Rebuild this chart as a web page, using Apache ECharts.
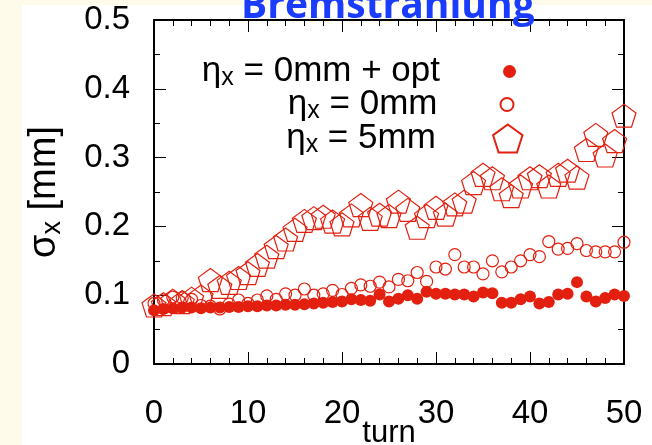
<!DOCTYPE html>
<html>
<head>
<meta charset="utf-8">
<script src="https://cdn.jsdelivr.net/npm/echarts@6/dist/echarts.min.js"></script>
<style>
  html, body { margin: 0; padding: 0; }
  #chart {
    width: 652px;
    height: 445px;
    background:
      linear-gradient(#fffbea, #fffbea) 0 0 / 22px 100% no-repeat,
      linear-gradient(#fffbea, #fffbea) 0 0 / 100% 5px no-repeat,
      #fff;
  }
</style>
</head>
<body>
<div id="chart"></div>
<script>
const turns = [0, 1, 2, 3, 4, 5, 6, 7, 8, 9, 10, 11, 12, 13, 14, 15, 16, 17, 18, 19, 20,
  21, 22, 23, 24, 25, 26, 27, 28, 29, 30, 31, 32, 33, 34, 35, 36, 37, 38, 39, 40,
  41, 42, 43, 44, 45, 46, 47, 48, 49, 50];

// sigma_x [mm], eta_x = 0mm + opt
const sigmaOpt = [0.078, 0.080, 0.081, 0.082, 0.082, 0.081, 0.082, 0.082, 0.083, 0.083,
  0.084, 0.084, 0.085, 0.085, 0.086, 0.086, 0.087, 0.088, 0.089, 0.090,
  0.091, 0.094, 0.093, 0.092, 0.101, 0.091, 0.095, 0.100, 0.095, 0.105,
  0.102, 0.102, 0.101, 0.101, 0.098, 0.104, 0.103, 0.089, 0.089, 0.094,
  0.098, 0.088, 0.090, 0.101, 0.102, 0.119, 0.098, 0.091, 0.096, 0.101, 0.099];

// eta_x = 0mm
const sigmaZero = [0.088, 0.093, 0.097, 0.096, 0.094, 0.085, 0.084, 0.080, 0.087, 0.093,
  0.088, 0.093, 0.099, 0.094, 0.102, 0.100, 0.109, 0.100, 0.102, 0.107,
  0.101, 0.110, 0.115, 0.113, 0.119, 0.112, 0.123, 0.121, 0.133, 0.120,
  0.141, 0.138, 0.159, 0.141, 0.141, 0.131, 0.150, 0.134, 0.141, 0.150,
  0.159, 0.156, 0.178, 0.167, 0.168, 0.175, 0.165, 0.163, 0.163, 0.163, 0.177];

// eta_x = 5mm
const sigmaFive = [0.085, 0.087, 0.092, 0.090, 0.095, 0.098, 0.122, 0.112, 0.118, 0.125,
  0.132, 0.144, 0.156, 0.170, 0.181, 0.195, 0.208, 0.212, 0.214, 0.207,
  0.203, 0.216, 0.231, 0.211, 0.217, 0.215, 0.236, 0.224, 0.198, 0.215,
  0.227, 0.217, 0.232, 0.236, 0.263, 0.275, 0.270, 0.254, 0.244, 0.258,
  0.270, 0.273, 0.258, 0.275, 0.281, 0.271, 0.311, 0.333, 0.303, 0.324, 0.361];

const xTicks = [0, 10, 20, 30, 40, 50];
const yTicks = [0, 0.1, 0.2, 0.3, 0.4, 0.5];

const seriesNames = ['opt', 'zero', 'five'];
const legendLabels = {
  opt: '{g|η}{s|x}{t| = 0mm + opt}',
  zero: '{g|η}{s|x}{t| = 0mm}',
  five: '{g|η}{s|x}{t| = 5mm}'
};

const FONT = "'Liberation Sans', Arial, sans-serif";
const RED = '#e3200f';
const pentagon = 'path://M12,0 L23.4,8.3 L19.1,21.7 L4.9,21.7 L0.6,8.3 Z';

const richOf = (big, small, drop) => ({
  g: { fontSize: big, lineHeight: big + 4, fontFamily: FONT, color: '#000' },
  s: { fontSize: small, lineHeight: small + 2, padding: [drop, 0, 0, 0], fontFamily: FONT, color: '#000' },
  t: { fontSize: big, lineHeight: big + 4, fontFamily: FONT, color: '#000' }
});

const pairs = (ys) => turns.map((t, i) => [t, ys[i]]);

const myChart = echarts.init(document.getElementById('chart'));

const axisCommon = {
  axisLine: { show: true, onZero: false, lineStyle: { color: '#000', width: 2 } },
  axisTick: { show: true, inside: true, length: 12, lineStyle: { color: '#000', width: 1 } },
  minorTick: { show: true, length: 6, lineStyle: { color: '#000', width: 1 } },
  splitLine: { show: false }
};

function makeLegend(name, size, top, rightPos, pad) {
  return {
    data: [name],
    orient: 'vertical',
    align: 'right',
    right: rightPos,
    top: top,
    padding: 0,
    itemWidth: size[0],
    itemHeight: size[1],
    selectedMode: false,
    formatter: (n) => legendLabels[n],
    textStyle: { fontSize: 35, fontFamily: FONT, color: '#000', padding: [0, pad, 0, 0], rich: richOf(35, 25, 14) }
  };
}

const option = {
  animation: false,
  title: {
    text: 'Bremstrahlung',
    left: 241,
    top: -13,
    padding: 0,
    textStyle: { fontSize: 39, fontWeight: 'bold', color: '#1a3cff', fontFamily: "'Open Sans', 'Noto Sans', sans-serif" }
  },
  legend: [
    makeLegend('opt', [13, 13], 52, 136, 58),
    makeLegend('zero', [13, 13], 85, 136, 58),
    makeLegend('five', [30, 28], 119, 127, 52)
  ],
  grid: { left: 154, right: 28, top: 20, bottom: 81, outerBoundsMode: 'none' },
  xAxis: [
    Object.assign({}, axisCommon, {
      type: 'value',
      min: xTicks[0],
      max: xTicks[xTicks.length - 1],
      interval: xTicks[1] - xTicks[0],
      minorTick: Object.assign({}, axisCommon.minorTick, { splitNumber: 5 }),
      name: 'turn',
      nameLocation: 'middle',
      nameGap: 54,
      nameMoveOverlap: false,
      nameTextStyle: { fontSize: 31, fontFamily: FONT, color: '#000' },
      axisLabel: { margin: 33, fontSize: 33, fontFamily: FONT, color: '#000' }
    }),
    Object.assign({}, axisCommon, {
      type: 'value',
      position: 'top',
      min: xTicks[0],
      max: xTicks[xTicks.length - 1],
      interval: xTicks[1] - xTicks[0],
      minorTick: Object.assign({}, axisCommon.minorTick, { splitNumber: 5 }),
      axisLabel: { show: false }
    })
  ],
  yAxis: [
    Object.assign({}, axisCommon, {
      type: 'value',
      min: yTicks[0],
      max: yTicks[yTicks.length - 1],
      interval: yTicks[1] - yTicks[0],
      minorTick: Object.assign({}, axisCommon.minorTick, { splitNumber: 2 }),
      name: '{g|σ}{s|x}{t| [mm]}',
      nameLocation: 'middle',
      nameGap: 88,
      nameMoveOverlap: false,
      nameTextStyle: { rich: richOf(38, 27, 15) },
      axisLabel: { margin: 24, fontSize: 33, fontFamily: FONT, color: '#000' }
    }),
    Object.assign({}, axisCommon, {
      type: 'value',
      position: 'right',
      min: yTicks[0],
      max: yTicks[yTicks.length - 1],
      interval: yTicks[1] - yTicks[0],
      minorTick: Object.assign({}, axisCommon.minorTick, { splitNumber: 2 }),
      axisLabel: { show: false }
    })
  ],
  series: [
    {
      name: seriesNames[0],
      type: 'scatter',
      data: pairs(sigmaOpt),
      symbol: 'circle',
      symbolSize: 12,
      itemStyle: { color: RED, opacity: 1 }
    },
    {
      name: seriesNames[1],
      type: 'scatter',
      data: pairs(sigmaZero),
      symbol: 'circle',
      symbolSize: 12,
      itemStyle: { color: 'none', borderColor: RED, borderWidth: 1.2, opacity: 1 }
    },
    {
      name: seriesNames[2],
      type: 'scatter',
      data: pairs(sigmaFive),
      symbol: pentagon,
      symbolSize: [24, 23],
      itemStyle: { color: 'none', borderColor: RED, borderWidth: 1.2, opacity: 1 }
    }
  ]
};

myChart.setOption(option);
</script>
</body>
</html>
